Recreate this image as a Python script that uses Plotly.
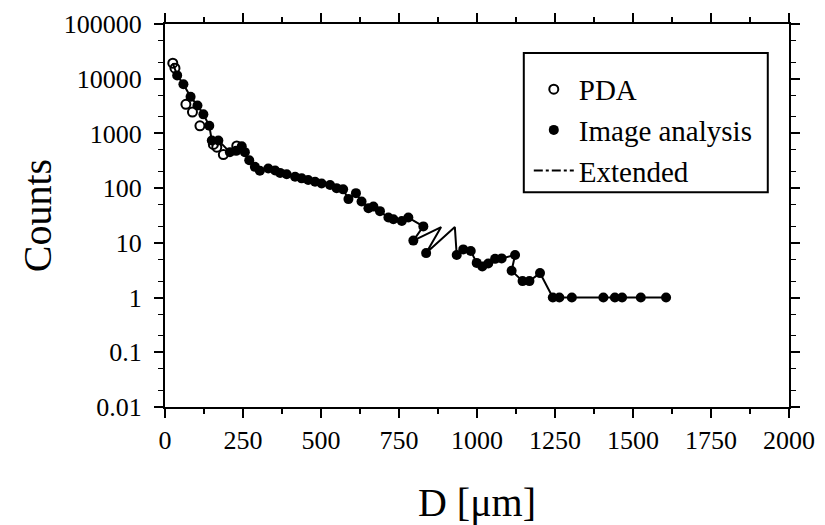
import plotly.graph_objects as go

# PDA measurements (open circles)
pda_d = [25, 32, 67, 88, 112, 155, 166, 187, 230]
pda_counts = [19200, 15600, 3400, 2460, 1380, 630, 560, 410, 590]

# Image analysis measurements (filled circles)
ia_d = [39, 59, 82, 104, 123, 142, 150, 171, 208, 228, 246, 256, 270, 288, 304,
        331, 353, 369, 390, 417, 438, 459, 481, 502, 529, 550, 571, 588, 612,
        630, 652, 668, 689, 716, 732, 759, 780, 828, 796, 837, 935, 956, 980,
        999, 1017, 1036, 1058, 1079, 1122, 1111, 1146, 1168, 1202, 1243, 1264,
        1304, 1405, 1442, 1465, 1525, 1606]
ia_counts = [11500, 7900, 4660, 3250, 2230, 1380, 745, 745, 455, 480, 585, 455,
             324, 245, 208, 229, 210, 190, 180, 161, 151, 141, 131, 122, 114,
             100, 95, 63, 81, 57, 43, 46, 38, 29, 27, 25, 29, 20, 11, 6.5, 6.0,
             7.6, 7.1, 4.3, 3.7, 4.2, 5.1, 5.2, 6.0, 3.1, 2.0, 2.0, 2.8, 1, 1,
             1, 1, 1, 1, 1, 1]

# Extended curve (passes through the image-analysis points)
ext_d = [25, 39, 59, 82, 104, 123, 142, 150, 171, 208, 228, 246, 256, 270, 288,
         304, 331, 353, 369, 390, 417, 438, 459, 481, 502, 529, 550, 571, 588,
         612, 630, 652, 668, 689, 716, 732, 759, 780, 828, 796, 885, 837, 929,
         935, 956, 980, 999, 1017, 1036, 1058, 1079, 1122, 1111, 1146, 1168,
         1202, 1243, 1264, 1304, 1405, 1442, 1465, 1525, 1606]
ext_counts = [19200, 11500, 7900, 4660, 3250, 2230, 1380, 745, 745, 455, 480,
              585, 455, 324, 245, 208, 229, 210, 190, 180, 161, 151, 141, 131,
              122, 114, 100, 95, 63, 81, 57, 43, 46, 38, 29, 27, 25, 29, 20, 11,
              19.4, 6.5, 19.4, 6.0, 7.6, 7.1, 4.3, 3.7, 4.2, 5.1, 5.2, 6.0, 3.1,
              2.0, 2.0, 2.8, 1, 1, 1, 1, 1, 1, 1, 1]

y_tickvals = [0.01, 0.1, 1, 10, 100, 1000, 10000, 100000]
y_ticktext = ["0.01", "0.1", "1", "10", "100", "1000", "10000", "100000"]
x_tickvals = [0, 250, 500, 750, 1000, 1250, 1500, 1750, 2000]

serif = "Liberation Serif, Times New Roman, serif"

fig = go.Figure()

# solid curve in the plot (legend entry drawn separately)
fig.add_trace(go.Scatter(
    x=ext_d, y=ext_counts, mode="lines",
    line=dict(color="black", width=2),
    showlegend=False, hoverinfo="skip",
))

fig.add_trace(go.Scatter(
    x=pda_d, y=pda_counts, mode="markers", name="PDA",
    marker=dict(symbol="circle-open", size=9, color="black", line=dict(width=2)),
    legendgroup="a",
))

fig.add_trace(go.Scatter(
    x=ia_d, y=ia_counts, mode="markers", name="Image analysis",
    marker=dict(symbol="circle", size=10, color="black"),
    legendgroup="b",
))

fig.add_trace(go.Scatter(
    x=[None], y=[None], mode="lines", name="Extended",
    line=dict(color="black", width=2, dash="dashdot"),
    legendgroup="c",
))

# legend frame (wider than the auto-sized plotly legend)
fig.add_shape(
    type="rect", xref="paper", yref="paper",
    x0=0.575, x1=0.966, y0=0.561, y1=0.924,
    line=dict(color="black", width=2), fillcolor="white", layer="above",
)

# the page body has an 8px margin, so the figure is 8px smaller
fig.update_layout(
    width=817, height=517,
    margin=dict(l=157, r=36, t=16, b=118),
    paper_bgcolor="white", plot_bgcolor="white",
    font=dict(family=serif, color="black"),
    legend=dict(
        x=0.583, y=0.896, xanchor="left", yanchor="top",
        borderwidth=0, bgcolor="rgba(0,0,0,0)", itemwidth=40,
        font=dict(size=29), traceorder="grouped", tracegroupgap=0,
    ),
    showlegend=True,
)

fig.update_xaxes(
    range=[0, 2000], tickvals=x_tickvals, automargin=False,
    showline=True, linecolor="black", linewidth=2, mirror="ticks",
    ticks="outside", ticklen=9, tickwidth=2, tickcolor="black",
    minor=dict(ticks="outside", ticklen=5, tickwidth=2, dtick=125),
    showgrid=False, zeroline=False,
    tickfont=dict(size=26),
    title=dict(text="D [μm]", font=dict(size=40), standoff=40),
)

fig.update_yaxes(
    type="log", range=[-2, 5], tickvals=y_tickvals, ticktext=y_ticktext,
    automargin=False, ticklabelstandoff=7,
    showline=True, linecolor="black", linewidth=2, mirror="ticks",
    ticks="outside", ticklen=9, tickwidth=2, tickcolor="black",
    minor=dict(ticks="outside", ticklen=5, tickwidth=1),
    showgrid=False, zeroline=False,
    tickfont=dict(size=26),
    title=dict(text="Counts", font=dict(size=40), standoff=0),
)

fig.write_html("out.html")
